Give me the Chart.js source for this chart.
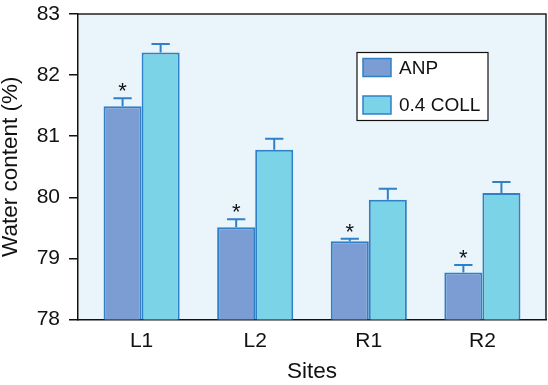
<!DOCTYPE html>
<html>
<head>
<meta charset="utf-8">
<script src="https://cdn.jsdelivr.net/npm/chart.js@4.4.0/dist/chart.umd.min.js"></script>
<style>
    html, body { margin: 0; padding: 0; background: #fff; }
    canvas { display: block; }
</style>
</head>
<body>
<canvas id="grafica" width="548" height="385"></canvas>
<script>
// values
const sitios = ['L1', 'L2', 'R1', 'R2'];
const anp = [81.49, 79.51, 79.28, 78.77];
const anpErr = [0.13, 0.13, 0.04, 0.12];
const coll = [82.37, 80.78, 79.96, 80.07];
const collErr = [0.14, 0.18, 0.18, 0.18];
const marcasAnp = ['*', '*', '*', '*'];
const yMin = 78;
const yMax = 83;

const fuente = "'Liberation Sans', Arial, sans-serif";
Chart.defaults.font.family = fuente;
Chart.defaults.color = '#111';

const puntos = (valores) => valores.map((v, i) => ({x: i + 1, y: v}));

// plot background + frame on top/right
const fondo = {
    id: 'fondo',
    beforeDraw(chart) {
        const {ctx, chartArea: a} = chart;
        ctx.save();
        ctx.fillStyle = '#eaf5fb';
        ctx.fillRect(a.left, a.top, a.right - a.left, a.bottom - a.top);
        ctx.restore();
    },
    afterDraw(chart) {
        const {ctx, chartArea: a} = chart;
        ctx.save();
        ctx.strokeStyle = '#222';
        ctx.lineWidth = 1.5;
        ctx.beginPath();
        ctx.moveTo(a.left, a.top);
        ctx.lineTo(a.right, a.top);
        ctx.lineTo(a.right, a.bottom);
        ctx.stroke();
        ctx.restore();
    }
};

const barrasError = {
    id: 'barrasError',
    afterDatasetsDraw(chart) {
        const ctx = chart.ctx;
        const y = chart.scales.y;
        chart.data.datasets.forEach((ds, i) => {
            const meta = chart.getDatasetMeta(i);
            meta.data.forEach((bar, j) => {
                const top = y.getPixelForValue(ds.data[j].y + ds.errores[j]);
                const cap = bar.width * 0.24;
                ctx.save();
                ctx.strokeStyle = ds.borderColor;
                ctx.lineWidth = 2;
                ctx.beginPath();
                ctx.moveTo(bar.x, bar.y);
                ctx.lineTo(bar.x, top);
                ctx.moveTo(bar.x - cap, top);
                ctx.lineTo(bar.x + cap, top);
                ctx.stroke();
                if (ds.marcas && ds.marcas[j]) {
                    ctx.fillStyle = '#111';
                    ctx.font = '22px ' + fuente;
                    ctx.textAlign = 'center';
                    ctx.textBaseline = 'alphabetic';
                    ctx.fillText(ds.marcas[j], bar.x, top);
                }
                ctx.restore();
            });
        });
    }
};

// boxed legend inside the plot
const leyenda = {
    id: 'leyenda',
    afterDraw(chart) {
        const {ctx, chartArea: a} = chart;
        const x0 = a.right - 189;
        const y0 = a.top + 38.5;
        ctx.save();
        ctx.fillStyle = '#fff';
        ctx.fillRect(x0, y0, 131, 68);
        ctx.strokeStyle = '#111';
        ctx.lineWidth = 1.2;
        ctx.strokeRect(x0, y0, 131, 68);
        ctx.font = '19px ' + fuente;
        ctx.textBaseline = 'middle';
        ctx.textAlign = 'left';
        chart.data.datasets.forEach((ds, i) => {
            const cy = y0 + 15 + i * 37.5;
            ctx.fillStyle = ds.backgroundColor;
            ctx.fillRect(x0 + 6, cy - 9, 28, 18);
            ctx.strokeStyle = ds.borderColor;
            ctx.lineWidth = 1.5;
            ctx.strokeRect(x0 + 6, cy - 9, 28, 18);
            ctx.fillStyle = '#111';
            ctx.fillText(ds.label, x0 + 42, cy + 1);
        });
        ctx.restore();
    }
};

new Chart(document.getElementById('grafica').getContext('2d'), {
    type: 'bar',
    data: {
        datasets: [{
            label: 'ANP',
            data: puntos(anp),
            errores: anpErr,
            marcas: marcasAnp,
            backgroundColor: '#7b9dd4',
            borderColor: '#2f80c6',
            borderWidth: 2,
            borderSkipped: false
        }, {
            label: '0.4 COLL',
            data: puntos(coll),
            errores: collErr,
            backgroundColor: '#7ad3e6',
            borderColor: '#2f80c6',
            borderWidth: 2,
            borderSkipped: false
        }]
    },
    options: {
        responsive: false,
        animation: false,
        categoryPercentage: 0.67,
        barPercentage: 1,
        layout: {padding: {top: 14, right: 2, left: 0, bottom: 0}},
        plugins: {
            legend: {display: false},
            tooltip: {enabled: false}
        },
        scales: {
            x: {
                type: 'linear',
                min: 0.44,
                max: 4.56,
                offset: false,
                afterBuildTicks: (scale) => {
                    scale.ticks = sitios.map((s, i) => ({value: i + 1}));
                },
                afterFit: (scale) => {
                    scale.height = 65.5;
                    scale.paddingLeft = 0;
                    scale.paddingRight = 0;
                },
                ticks: {
                    padding: 9,
                    font: {size: 21},
                    color: '#111',
                    callback: (v) => sitios[Math.round(v) - 1]
                },
                grid: {display: true, drawOnChartArea: false, drawTicks: false, offset: false},
                border: {display: true, color: '#111', width: 1.5},
                title: {
                    display: true,
                    text: 'Sites',
                    font: {size: 22.5, lineHeight: 1},
                    color: '#111',
                    padding: {top: 0, bottom: 1.5}
                }
            },
            y: {
                min: yMin,
                max: yMax,
                ticks: {stepSize: 1, padding: 9, font: {size: 21}, color: '#111'},
                afterFit: (scale) => {
                    scale.width = 78;
                    scale.paddingTop = 0;
                    scale.paddingBottom = 0;
                },
                grid: {drawOnChartArea: false, drawTicks: true, tickLength: 9, color: '#111', tickColor: '#111', lineWidth: 1.5},
                border: {display: true, color: '#111', width: 1.5},
                title: {
                    display: true,
                    text: 'Water content (%)',
                    font: {size: 22.5, lineHeight: 1},
                    color: '#111',
                    padding: {top: 0, bottom: 0}
                }
            }
        }
    },
    plugins: [fondo, barrasError, leyenda]
});
</script>
</body>
</html>
